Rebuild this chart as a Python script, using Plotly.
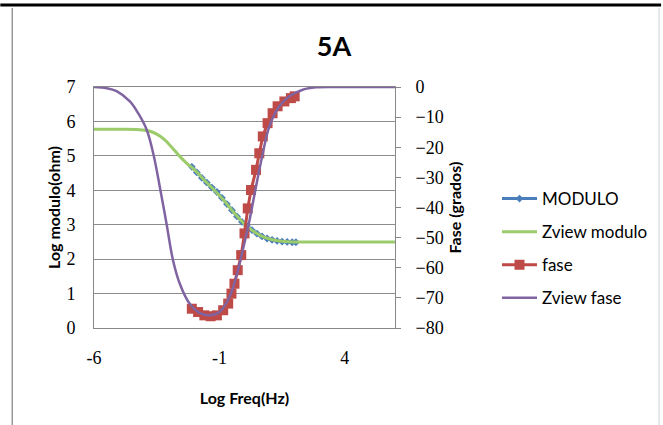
import plotly.graph_objects as go

# MODULO (measured)
mod_x = [-2.1, -1.9, -1.7, -1.5, -1.3, -1.1, -0.9, -0.7, -0.5, -0.3, -0.1, 0.1, 0.3, 0.5, 0.7, 0.9, 1.1, 1.3, 1.5, 1.7, 1.9, 2.05]
mod_y = [4.68, 4.52, 4.36, 4.22, 4.08, 3.95, 3.78, 3.6, 3.42, 3.24, 3.08, 2.96, 2.84, 2.74, 2.66, 2.6, 2.56, 2.53, 2.51, 2.5, 2.49, 2.49]

# Zview modulo (fit)
zm_x = [-6, -5, -4.2, -3.8, -3.5, -3.2, -2.9, -2.6, -2.3, -2.0, -1.6, -1.2, -0.8, -0.4, 0.0, 0.4, 0.8, 1.2, 1.6, 2.0, 2.5, 3.5, 6]
zm_y = [5.77, 5.77, 5.76, 5.72, 5.63, 5.48, 5.25, 5.0, 4.78, 4.6, 4.29, 4.0, 3.69, 3.33, 3.02, 2.79, 2.63, 2.55, 2.51, 2.5, 2.5, 2.5, 2.5]

# fase (measured)
fase_x = [-2.1, -1.85, -1.6, -1.35, -1.1, -0.85, -0.65, -0.52, -0.4, -0.27, -0.13, 0.0, 0.13, 0.26, 0.46, 0.59, 0.73, 0.92, 1.12, 1.32, 1.59, 1.85, 2.0]
fase_y = [-73.6, -74.7, -75.8, -76.1, -75.8, -74.1, -71.9, -68.6, -65.3, -60.8, -55.8, -48.6, -40.3, -34.2, -27.5, -22.0, -16.4, -12.0, -8.7, -6.4, -4.8, -3.7, -3.1]

# Zview fase (fit)
zf_x = [-6, -5.5, -5.1, -4.57, -4.24, -3.9, -3.64, -3.38, -3.11, -2.85, -2.58, -2.19, -1.79, -1.4, -1.0, -0.6, -0.33, -0.07, 0.2, 0.46, 0.73, 0.99, 1.39, 1.79, 2.32, 2.85, 4, 6]
zf_y = [0, -0.4, -1.4, -4.8, -8.7, -14.2, -22, -33, -45.3, -57.5, -65.3, -71.9, -75, -75.8, -74.7, -69.7, -63, -54.2, -44.2, -33, -22, -13.1, -6.4, -3.1, -0.9, -0.1, 0, 0]

x_ticks = [-6, -1, 4]

BLUE = "#4A7EBB"
GREEN = "#9BCB6A"
RED = "#BE4B48"
PURPLE = "#8064A2"

fig = go.Figure()
fig.add_trace(go.Scatter(x=mod_x, y=mod_y, name="MODULO", mode="lines+markers", legendgroup="a",
                         line=dict(color=BLUE, width=3), marker=dict(symbol="diamond", size=6, color=BLUE)))
fig.add_trace(go.Scatter(x=zm_x, y=zm_y, name="Zview modulo", mode="lines", legendgroup="b",
                         line=dict(color=GREEN, width=3, shape="spline")))
fig.add_trace(go.Scatter(x=fase_x, y=fase_y, name="fase", mode="lines+markers", yaxis="y2", legendgroup="c",
                         line=dict(color=RED, width=3), marker=dict(symbol="square", size=10, color=RED)))
fig.add_trace(go.Scatter(x=zf_x, y=zf_y, name="Zview fase", mode="lines", yaxis="y2", legendgroup="d",
                         line=dict(color=PURPLE, width=2.5, shape="spline")))

W, H = 663, 425
L, R, T, B = 94, 396, 87, 328
pw, ph = R - L, B - T

def px(x):
    return (x - L) / pw

def py(y):
    return (B - y) / ph

shapes = [
    dict(type="line", xref="paper", yref="paper", x0=px(0), x1=px(W), y0=py(5), y1=py(5),
         line=dict(color="black", width=3)),
    dict(type="line", xref="paper", yref="paper", x0=px(12), x1=px(12), y0=py(8), y1=py(H),
         line=dict(color="#999999", width=1.5)),
    dict(type="line", xref="paper", yref="paper", x0=px(661), x1=px(661), y0=py(8), y1=py(H),
         line=dict(color="#E0E0E0", width=1.5)),
]

TICKFONT = dict(family="Liberation Serif", size=18, color="black")
TITLEFONT = dict(family="Lato", size=16, color="black")

fig.update_layout(
    width=W, height=H,
    margin=dict(l=L, r=W - R, t=T, b=H - B),
    paper_bgcolor="white", plot_bgcolor="white",
    showlegend=True,
    title=dict(text="<b>5A</b>", xref="container", yref="container", x=334 / W, xanchor="center",
               y=1 - 47 / H, yanchor="middle",
               font=dict(family="Lato", size=27, color="black")),
    xaxis=dict(range=[-6, 6], tickvals=x_ticks, ticktext=[str(v) for v in x_ticks],
               showgrid=False, zeroline=False, showline=True, mirror=True, linecolor="#888888", linewidth=1,
               ticks="", ticklabelstandoff=13, tickfont=TICKFONT,
               title=dict(text="<b>Log Freq(Hz)</b>", font=TITLEFONT, standoff=26)),
    yaxis=dict(range=[0, 7], dtick=1, showgrid=True, gridcolor="#8C8C8C", gridwidth=1, zeroline=False,
               showline=True, linecolor="#888888", linewidth=1, ticks="", ticklabelstandoff=14,
               tickfont=TICKFONT,
               title=dict(text="<b>Log modulo(ohm)</b>", font=TITLEFONT, standoff=1)),
    yaxis2=dict(range=[-80, 0], dtick=10, overlaying="y", side="right", showgrid=False, zeroline=False,
                showline=True, linecolor="#888888", linewidth=1, ticks="outside", ticklen=5, tickcolor="#888888",
                ticklabelstandoff=11, tickfont=TICKFONT,
                title=dict(text="<b>Fase (grados)</b>", font=TITLEFONT, standoff=7)),
    legend=dict(x=px(497), y=py(181), xanchor="left", yanchor="top", bgcolor="rgba(0,0,0,0)",
                font=dict(family="Lato", size=17, color="black"), tracegroupgap=8, itemwidth=35),
    shapes=shapes,
)

fig.write_html("out.html")
